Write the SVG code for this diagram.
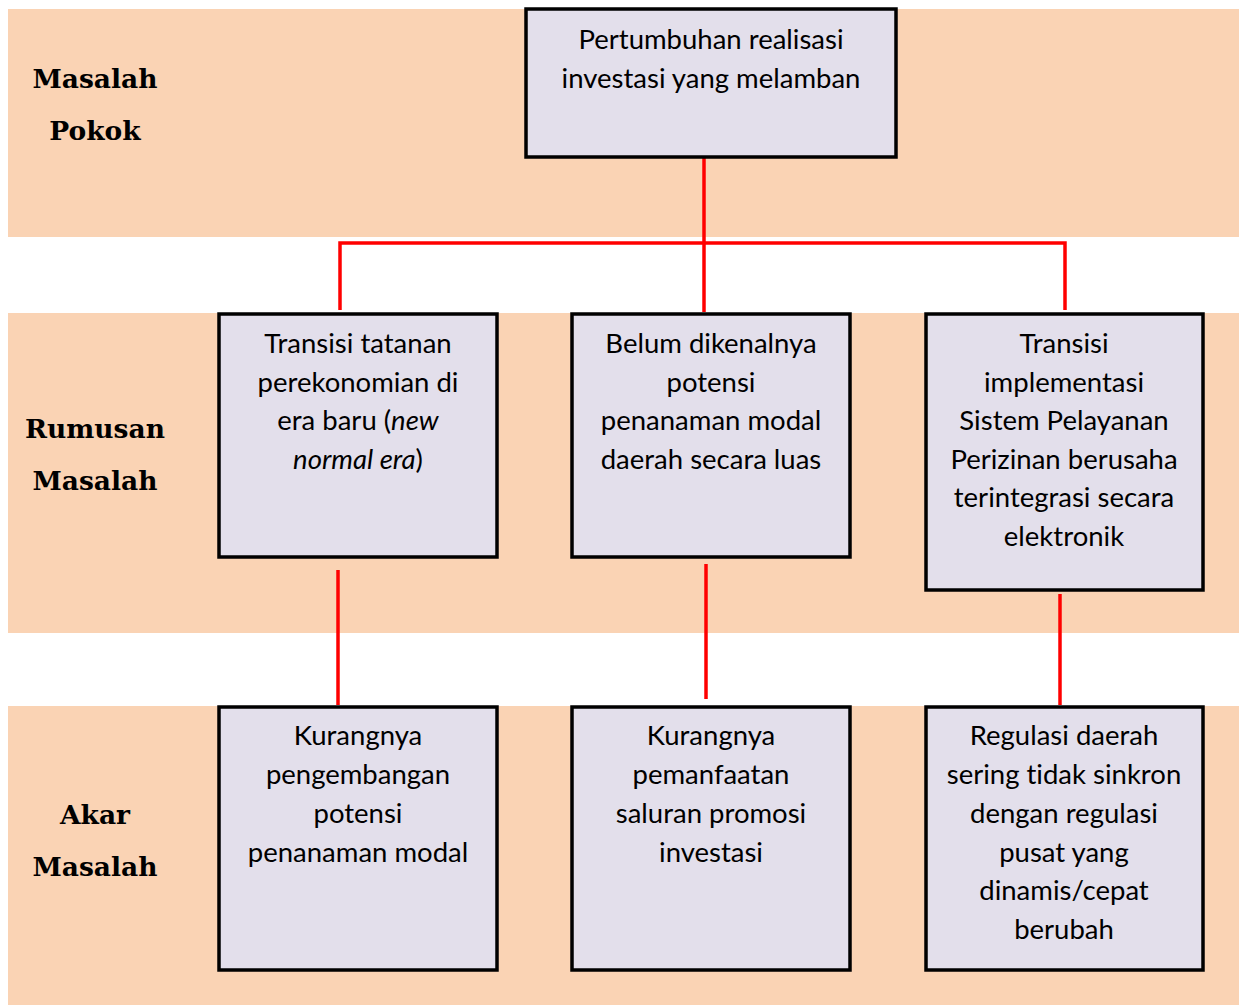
<svg xmlns="http://www.w3.org/2000/svg" width="1239" height="1006" viewBox="0 0 1239 1006">
  <style>
    .band { fill: #fad3b4; }
    .box { fill: #e3dfeb; stroke: #000; stroke-width: 3.5; }
    .lbl { font-family: "DejaVu Serif", "Liberation Serif", serif; font-weight: bold; font-size: 26.5px; fill: #000; text-anchor: middle; }
    .txt { font-family: Lato, "Liberation Sans", sans-serif; font-size: 27.5px; fill: #000; text-anchor: middle; font-variant-ligatures: none; }
    .link { stroke: #ff0000; stroke-width: 3.5; fill: none; }
  </style>
  <rect width="1239" height="1006" fill="#ffffff"/>

  <!-- horizontal bands -->
  <g id="bands">
    <rect class="band" x="8" y="9" width="1231" height="228"/>
    <rect class="band" x="8" y="313" width="1231" height="320"/>
    <rect class="band" x="8" y="706" width="1231" height="299"/>
  </g>

  <!-- row labels -->
  <g id="labels">
    <text class="lbl" x="95" y="88">Masalah</text>
    <text class="lbl" x="95" y="140">Pokok</text>
    <text class="lbl" x="95" y="438">Rumusan</text>
    <text class="lbl" x="95" y="490">Masalah</text>
    <text class="lbl" x="95" y="824">Akar</text>
    <text class="lbl" x="95" y="876">Masalah</text>
  </g>

  <!-- connectors -->
  <g id="connectors">
    <line class="link" x1="704" y1="158" x2="704" y2="312"/>
    <polyline class="link" points="340,310 340,243 1065,243 1065,310"/>
    <line class="link" x1="338" y1="570" x2="338" y2="705"/>
    <line class="link" x1="706" y1="564" x2="706" y2="699"/>
    <line class="link" x1="1060" y1="594" x2="1060" y2="705"/>
  </g>

  <g id="node-pokok">
    <rect class="box" x="526" y="9" width="370" height="148"/>
    <text class="txt" x="711" y="49">Pertumbuhan realisasi</text>
    <text class="txt" x="711" y="88">investasi yang melamban</text>
  </g>

  <g id="node-rumusan-1">
    <rect class="box" x="219" y="314" width="278" height="243"/>
    <text class="txt" x="358" y="353">Transisi tatanan</text>
    <text class="txt" x="358" y="392">perekonomian di</text>
    <text class="txt" x="358" y="430">era baru (<tspan font-style="italic">new</tspan></text>
    <text class="txt" x="358" y="469"><tspan font-style="italic">normal era</tspan>)</text>
  </g>

  <g id="node-rumusan-2">
    <rect class="box" x="572" y="314" width="278" height="243"/>
    <text class="txt" x="711" y="353">Belum dikenalnya</text>
    <text class="txt" x="711" y="392">potensi</text>
    <text class="txt" x="711" y="430">penanaman modal</text>
    <text class="txt" x="711" y="469">daerah secara luas</text>
  </g>

  <g id="node-rumusan-3">
    <rect class="box" x="926" y="314" width="277" height="276"/>
    <text class="txt" x="1064" y="353">Transisi</text>
    <text class="txt" x="1064" y="392">implementasi</text>
    <text class="txt" x="1064" y="430">Sistem Pelayanan</text>
    <text class="txt" x="1064" y="469">Perizinan berusaha</text>
    <text class="txt" x="1064" y="507">terintegrasi secara</text>
    <text class="txt" x="1064" y="546">elektronik</text>
  </g>

  <g id="node-akar-1">
    <rect class="box" x="219" y="707" width="278" height="263"/>
    <text class="txt" x="358" y="745">Kurangnya</text>
    <text class="txt" x="358" y="784">pengembangan</text>
    <text class="txt" x="358" y="823">potensi</text>
    <text class="txt" x="358" y="862">penanaman modal</text>
  </g>

  <g id="node-akar-2">
    <rect class="box" x="572" y="707" width="278" height="263"/>
    <text class="txt" x="711" y="745">Kurangnya</text>
    <text class="txt" x="711" y="784">pemanfaatan</text>
    <text class="txt" x="711" y="823">saluran promosi</text>
    <text class="txt" x="711" y="862">investasi</text>
  </g>

  <g id="node-akar-3">
    <rect class="box" x="926" y="707" width="277" height="263"/>
    <text class="txt" x="1064" y="745">Regulasi daerah</text>
    <text class="txt" x="1064" y="784">sering tidak sinkron</text>
    <text class="txt" x="1064" y="823">dengan regulasi</text>
    <text class="txt" x="1064" y="862">pusat yang</text>
    <text class="txt" x="1064" y="900">dinamis/cepat</text>
    <text class="txt" x="1064" y="939">berubah</text>
  </g>
</svg>
